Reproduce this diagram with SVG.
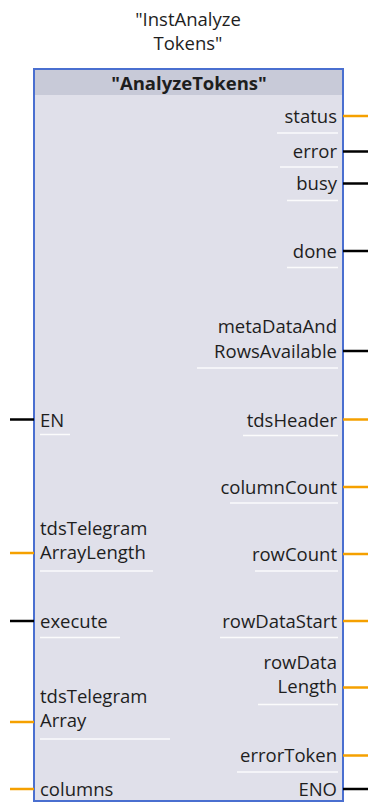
<svg xmlns="http://www.w3.org/2000/svg" width="368" height="803" viewBox="0 0 368 803">
<style>
.t{font-family:"Open Sans","Noto Sans",sans-serif;font-size:18.5px;fill:#1e1e1e}
.r{text-anchor:end}
.c{text-anchor:middle}
.b{font-weight:bold}
.o{stroke:#f5a000;stroke-width:2.5;fill:none}
.k{stroke:#000;stroke-width:2.5;fill:none}
.s{stroke:#ffffff;stroke-width:1.5;opacity:0.9}
</style>
<rect width="368" height="803" fill="#ffffff"/>
<g id="instance">
<text class="t c" x="188" y="26">"InstAnalyze</text>
<text class="t c" x="188" y="50">Tokens"</text>
</g>
<g id="block">
<rect x="34" y="69" width="309" height="732" fill="#e0e0ea" stroke="#4a6fd0" stroke-width="2"/>
<rect x="35" y="70" width="307" height="25" fill="#c8cad8"/>
<text class="t c b" x="189" y="90">"AnalyzeTokens"</text>
</g>
<g id="separators">
<line class="s" x1="277" y1="133" x2="338" y2="133"/>
<line class="s" x1="280" y1="167" x2="338" y2="167"/>
<line class="s" x1="287" y1="200.5" x2="338" y2="200.5"/>
<line class="s" x1="287" y1="267.5" x2="338" y2="267.5"/>
<line class="s" x1="197" y1="368" x2="338" y2="368"/>
<line class="s" x1="243" y1="435.5" x2="338" y2="435.5"/>
<line class="s" x1="230" y1="503" x2="338" y2="503"/>
<line class="s" x1="255" y1="571" x2="338" y2="571"/>
<line class="s" x1="220" y1="637.5" x2="338" y2="637.5"/>
<line class="s" x1="258" y1="704.5" x2="338" y2="704.5"/>
<line class="s" x1="237" y1="772" x2="338" y2="772"/>
<line class="s" x1="40" y1="434.5" x2="70" y2="434.5"/>
<line class="s" x1="40" y1="571" x2="153" y2="571"/>
<line class="s" x1="40" y1="637.5" x2="120" y2="637.5"/>
<line class="s" x1="40" y1="739" x2="170" y2="739"/>
</g>
<g id="connectors">
<line class="o" x1="343" y1="116" x2="368" y2="116"/>
<line class="k" x1="343" y1="151.5" x2="368" y2="151.5"/>
<line class="k" x1="343" y1="183.5" x2="368" y2="183.5"/>
<line class="k" x1="343" y1="251" x2="368" y2="251"/>
<line class="k" x1="343" y1="351" x2="368" y2="351"/>
<line class="o" x1="343" y1="419.5" x2="368" y2="419.5"/>
<line class="o" x1="343" y1="487" x2="368" y2="487"/>
<line class="o" x1="343" y1="554" x2="368" y2="554"/>
<line class="o" x1="343" y1="621" x2="368" y2="621"/>
<line class="o" x1="343" y1="687.5" x2="368" y2="687.5"/>
<line class="o" x1="343" y1="755.5" x2="368" y2="755.5"/>
<line class="k" x1="343" y1="789" x2="368" y2="789"/>
<line class="k" x1="10" y1="419.5" x2="34" y2="419.5"/>
<line class="o" x1="10" y1="553" x2="34" y2="553"/>
<line class="k" x1="10" y1="621" x2="34" y2="621"/>
<line class="o" x1="10" y1="722" x2="34" y2="722"/>
<line class="o" x1="10" y1="789" x2="34" y2="789"/>
</g>
<g id="outputs">
<text class="t r" x="337" y="123">status</text>
<text class="t r" x="337" y="158">error</text>
<text class="t r" x="337" y="190">busy</text>
<text class="t r" x="337" y="258">done</text>
<text class="t r" x="337" y="333">metaDataAnd</text>
<text class="t r" x="337" y="358">RowsAvailable</text>
<text class="t r" x="337" y="427">tdsHeader</text>
<text class="t r" x="337" y="494">columnCount</text>
<text class="t r" x="337" y="561">rowCount</text>
<text class="t r" x="337" y="628">rowDataStart</text>
<text class="t r" x="337" y="669">rowData</text>
<text class="t r" x="337" y="693">Length</text>
<text class="t r" x="337" y="762">errorToken</text>
<text class="t r" x="337" y="796">ENO</text>
</g>
<g id="inputs">
<text class="t" x="40" y="427">EN</text>
<text class="t" x="40" y="535">tdsTelegram</text>
<text class="t" x="40" y="559">ArrayLength</text>
<text class="t" x="40" y="628">execute</text>
<text class="t" x="40" y="703">tdsTelegram</text>
<text class="t" x="40" y="727">Array</text>
<text class="t" x="40" y="796">columns</text>
</g>
</svg>
